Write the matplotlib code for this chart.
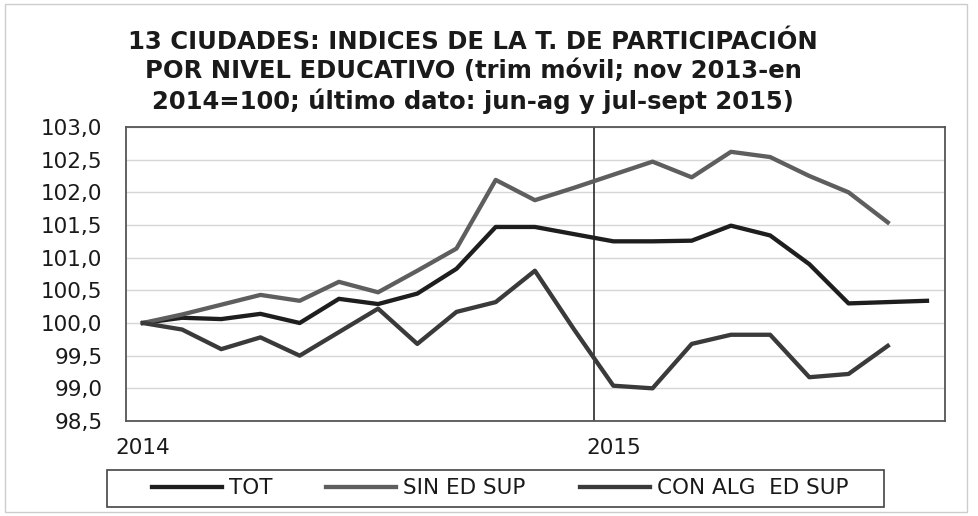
import numpy as np
import matplotlib
matplotlib.use("Agg")
import matplotlib.pyplot as plt
from matplotlib.patches import Rectangle

# ---- data ----
periods = list(range(21))  # nov-ene 2014 ... jul-sep 2015 (moving quarters)
tot = [100.0, 100.08, 100.06, 100.14, 100.0, 100.37, 100.29, 100.45, 100.83, 101.47,
       101.47, 101.36, 101.25, 101.25, 101.26, 101.49, 101.34, 100.9, 100.3, 100.32, 100.34]
sin_ed_sup = [100.0, 100.13, 100.28, 100.43, 100.34, 100.63, 100.47, 100.8, 101.14, 102.19,
              101.88, 102.07, 102.27, 102.47, 102.23, 102.62, 102.54, 102.25, 102.0, 101.54]
con_alg_ed_sup = [100.0, 99.9, 99.6, 99.78, 99.5, 99.86, 100.22, 99.68, 100.17, 100.32,
                  100.8, 99.9, 99.04, 99.0, 99.68, 99.82, 99.82, 99.17, 99.22, 99.65]
series_names = ["TOT", "SIN ED SUP", "CON ALG  ED SUP"]
year_ticks = [0, 12]
year_labels = ["2014", "2015"]
year_break = 11.5
yticks = [98.5, 99.0, 99.5, 100.0, 100.5, 101.0, 101.5, 102.0, 102.5, 103.0]
title = ("13 CIUDADES: INDICES DE LA T. DE PARTICIPACIÓN\n"
         "POR NIVEL EDUCATIVO (trim móvil; nov 2013-en\n"
         "2014=100; último dato: jun-ag y jul-sept 2015)")

W, H = 979, 516
plt.rcParams['font.family'] = ['DejaVu Sans']
fig = plt.figure(figsize=(W / 100, H / 100), dpi=100)
fig.patches.append(Rectangle((5 / W, 4 / H), 962 / W, 508 / H, transform=fig.transFigure,
                             fill=False, edgecolor='#cccccc', lw=1))

ax = fig.add_axes([126 / W, 1 - 421 / H, (945 - 126) / W, (421 - 127) / H])
x = np.array(periods)
l1, = ax.plot(x, tot, color='#1e1e1e', lw=3.1)
l2, = ax.plot(x[:len(sin_ed_sup)], sin_ed_sup, color='#5e5e5e', lw=3.1)
l3, = ax.plot(x[:len(con_alg_ed_sup)], con_alg_ed_sup, color='#3a3a3a', lw=3.1)
ax.axvline(year_break, color='#2a2a2a', lw=1.2, zorder=1)

ax.set_xlim(-0.43, 20.46)
ax.set_ylim(98.5, 103.0)
ax.set_yticks(yticks)
ax.set_yticklabels([f"{v:.1f}".replace('.', ',') for v in yticks])
ax.set_xticks(year_ticks)
ax.set_xticklabels(year_labels)
ax.tick_params(axis='both', length=0, labelsize=15.5, colors='#1a1a1a')
ax.tick_params(axis='y', pad=17)
ax.tick_params(axis='x', pad=12)
ax.grid(axis='y', color='#d6d6d6', lw=1)
ax.set_axisbelow(True)
for s in ax.spines.values():
    s.set_color('#555555')
    s.set_linewidth(1.3)

fig.text(473 / W, 1 - 72 / H, title, ha='center', va='center', fontsize=17.5,
         fontweight='bold', color='#1a1a1a', linespacing=1.25)

# legend box
fig.patches.append(Rectangle((107 / W, 1 - 507 / H), (884 - 107) / W, 37 / H,
                             transform=fig.transFigure, fill=False,
                             edgecolor='#444444', lw=1.2))
leg = fig.legend([l1, l2, l3], series_names, loc='center',
                 bbox_to_anchor=(500 / W, 1 - 488.5 / H),
                 ncol=3, frameon=False, fontsize=15.5, handlelength=3.25,
                 handletextpad=0.33, columnspacing=2.5, borderaxespad=0)
for t in leg.get_texts():
    t.set_color('#1a1a1a')

fig.savefig("out.png", dpi=100)
